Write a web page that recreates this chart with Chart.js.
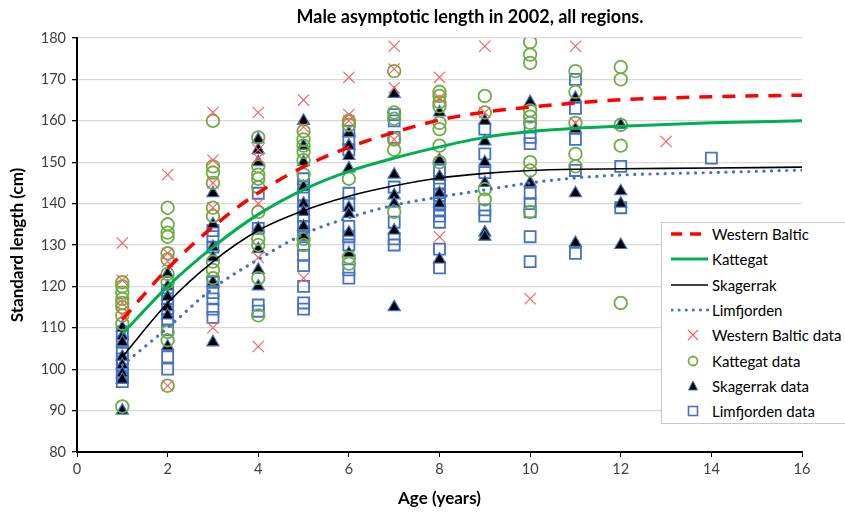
<!DOCTYPE html>
<html>
<head>
<meta charset="utf-8">
<script src="https://cdn.jsdelivr.net/npm/chart.js@4.4.1/dist/chart.umd.min.js"></script>
<style>
    body { margin: 0; background: #fff; font-family: Lato, 'Liberation Sans', sans-serif; }
    #wrap { position: relative; width: 845px; height: 513px; overflow: hidden; }
    #title { position: absolute; left: 95px; width: 750px; top: 5px; text-align: center; font-weight: bold; font-size: 18px; color: #000; }
    #legend { position: absolute; left: 661px; top: 222px; width: 200px; height: 202px; background: #fff; border: 1px solid #c8c8c8; box-sizing: border-box; }
    .item { position: absolute; left: 0; height: 20px; font-size: 15px; color: #000; line-height: 20px; white-space: nowrap; }
    .item svg { position: absolute; left: 9px; top: 0; }
    .item span { position: absolute; left: 50px; top: 0; }
</style>
</head>
<body>
<div id="wrap">
    <canvas id="chart" width="845" height="513"></canvas>
    <div id="title">Male asymptotic length in 2002, all regions.</div>
    <div id="legend"></div>
</div>
<script>
// fitted growth curves, read at these ages
const curveAges = [1, 2, 3, 4, 5, 6, 7, 8, 9, 10, 11, 12, 14, 16];
const westernBalticCurve = [112, 124.3, 134.4, 142.6, 148.9, 153.6, 157.2, 160.2, 162.1, 163.3, 164.3, 165.1, 165.8, 166.2];
const kattegatCurve = [108.5, 120, 129.5, 137.4, 143.4, 147.8, 151, 153.7, 156, 157.4, 158.2, 158.7, 159.5, 160];
const skagerrakCurve = [103, 116, 126, 133.5, 138.3, 141.8, 144.3, 146.2, 147.3, 148, 148.3, 148.4, 148.6, 148.8];
const limfjordenCurve = [101, 110, 119.5, 126.5, 132.6, 136.6, 139.6, 141.6, 143.3, 145, 146.2, 146.9, 147.5, 148.1];

// observed lengths per age
const westernBalticData = {
    1: [130.5, 121.5, 116, 113],
    2: [147, 128, 126, 96],
    3: [162, 150.5, 145, 139, 110],
    4: [162, 153, 151, 140, 127, 105.5],
    5: [165, 158.5, 122],
    6: [170.5, 161.5, 160],
    7: [178, 172.5, 168, 155.5],
    8: [170.5, 165.5, 132],
    9: [178, 162],
    10: [117],
    11: [178, 159.5],
    13: [155]
};
const kattegatData = {
    1: [121, 120, 118.5, 117, 116, 115, 113, 111, 91],
    2: [139, 135, 133, 132, 128, 126.5, 123, 121, 109, 107, 96],
    3: [160, 149, 147.5, 145, 139, 137, 126, 124, 122],
    4: [156, 149, 147, 146, 144, 138, 131.5, 130, 122, 113],
    5: [157.5, 155.5, 154, 152.5, 150.5, 147, 131.5, 130],
    6: [160, 159, 146, 127, 125.5],
    7: [172, 162, 160.5, 155.5, 153, 138],
    8: [167, 166, 164.5, 163.5, 159.5, 158, 154, 150],
    9: [166, 162, 143.5, 141],
    10: [179, 176, 174, 162.5, 161, 159.5, 150, 148, 138],
    11: [172, 167, 159.5, 152, 149],
    12: [173, 170, 159, 154, 116]
};
const skagerrakData = {
    1: [110, 108, 106.5, 103, 101, 99, 97.5, 90],
    2: [123, 120, 117.5, 115, 113, 105.5],
    3: [142.5, 135, 129.5, 127, 121, 106.5],
    4: [155.5, 153, 150, 134, 129, 124, 120],
    5: [160, 154, 150, 144, 140, 138, 134.5, 132],
    6: [157, 154, 151.5, 148.5, 139, 137.5, 133, 128],
    7: [166.5, 147, 142, 140, 133.5, 115],
    8: [162, 150.5, 146.5, 142.5, 140, 126.5],
    9: [160, 155, 150, 145, 133, 132],
    10: [164.5, 145],
    11: [165.5, 158, 142.5, 130.5],
    12: [159, 143, 140, 130]
};
const limfjordenData = {
    1: [109, 106.5, 104, 102.5, 101, 99, 98, 97],
    2: [119, 117, 114.5, 112, 109.5, 103, 100],
    3: [133.5, 132, 129.5, 121, 118.5, 117, 114.5, 112.5],
    4: [142.5, 134, 115.5, 114],
    5: [146, 144, 142, 139.5, 137, 134.5, 132, 130, 127.5, 125, 120, 116, 114.5],
    6: [157.5, 155.5, 153, 142.5, 140, 134.5, 132, 130, 124, 122],
    7: [161.5, 160, 156, 144, 135.5, 131.5, 130],
    8: [148, 145, 143.5, 142, 140, 138.5, 137, 135.5, 129, 124.5],
    9: [158, 152, 147.5, 138.5, 137],
    10: [158.5, 156, 154.5, 142.5, 140, 138, 132, 126],
    11: [170, 163, 155.5, 148, 128],
    12: [149, 139],
    14: [151]
};

const RED = '#ff0000', GREEN = '#00b050', BLUE = '#4472c4', XRED = '#ff5b5b', OGREEN = '#70ad47';

function curvePoints(values) {
    return curveAges.map((a, i) => ({ x: a, y: values[i] }));
}

function scatterPoints(obj) {
    const pts = [];
    Object.keys(obj).forEach(age => {
        obj[age].forEach(v => pts.push({ x: Number(age), y: v }));
    });
    return pts;
}

function lineSet(label, values, color, width, dash) {
    return {
        type: 'line', label: label, data: curvePoints(values),
        borderColor: color, borderWidth: width, borderDash: dash || [],
        borderCapStyle: dash && dash[0] < 1 ? 'round' : 'butt',
        pointRadius: 0, fill: false, tension: 0.4, cubicInterpolationMode: 'monotone',
        showLine: true, order: 0
    };
}

const ctx = document.getElementById('chart');
new Chart(ctx, {
    type: 'scatter',
    data: {
        datasets: [
            lineSet('Western Baltic', westernBalticCurve, RED, 3.5, [13, 10]),
            lineSet('Kattegat', kattegatCurve, GREEN, 3),
            lineSet('Skagerrak', skagerrakCurve, '#000', 1.6),
            lineSet('Limfjorden', limfjordenCurve, BLUE, 3.2, [0.1, 7.5]),
            {
                label: 'Western Baltic data', data: scatterPoints(westernBalticData),
                pointStyle: 'crossRot', pointRadius: 8, borderColor: XRED, borderWidth: 1.1,
                backgroundColor: XRED, order: 2
            },
            {
                label: 'Kattegat data', data: scatterPoints(kattegatData),
                pointStyle: 'circle', pointRadius: 6.3, borderColor: OGREEN, borderWidth: 1.8,
                backgroundColor: 'rgba(0,0,0,0)', order: 2
            },
            {
                label: 'Skagerrak data', data: scatterPoints(skagerrakData),
                pointStyle: 'triangle', pointRadius: 7, borderColor: BLUE, borderWidth: 1.2,
                backgroundColor: '#000', order: 2
            },
            {
                label: 'Limfjorden data', data: scatterPoints(limfjordenData),
                pointStyle: 'rect', pointRadius: 7.8, borderColor: BLUE, borderWidth: 1.8,
                backgroundColor: 'rgba(0,0,0,0)', order: 2
            }
        ]
    },
    options: {
        responsive: false,
        animation: false,
        devicePixelRatio: 1,
        layout: { padding: { top: 38, right: 43, bottom: 0, left: 0 } },
        plugins: {
            legend: { display: false },
            tooltip: { enabled: false }
        },
        scales: {
            x: {
                type: 'linear', min: 0, max: 16,
                ticks: { stepSize: 2, color: '#404040', font: { family: 'Lato', size: 14.5 }, padding: 4 },
                grid: { drawOnChartArea: false, drawTicks: true, tickLength: 5, tickColor: '#000' },
                border: { color: '#000', width: 2 },
                title: { display: true, text: 'Age (years)', color: '#000', font: { family: 'Lato', size: 17, weight: 'bold' }, padding: { top: 4, bottom: 4 } },
                afterFit: s => { s.height = 61; }
            },
            y: {
                min: 80, max: 180,
                ticks: { stepSize: 10, color: '#404040', font: { family: 'Lato', size: 14.5 }, padding: 6 },
                grid: { color: '#d9d9d9', lineWidth: 1.3, drawTicks: true, tickLength: 5, tickColor: '#000' },
                border: { color: '#000', width: 2 },
                title: { display: true, text: 'Standard length (cm)', color: '#000', font: { family: 'Lato', size: 17, weight: 'bold' }, padding: { top: 7, bottom: 4 } },
                afterFit: s => { s.width = 77; }
            }
        }
    }
});

// legend drawn as html over the plot
const legendItems = [
    { label: 'Western Baltic', icon: `<line x1="0" y1="10" x2="37" y2="10" stroke="${RED}" stroke-width="3.5" stroke-dasharray="11 8"/>` },
    { label: 'Kattegat', icon: `<line x1="0" y1="10" x2="37" y2="10" stroke="${GREEN}" stroke-width="3"/>` },
    { label: 'Skagerrak', icon: `<line x1="0" y1="10" x2="37" y2="10" stroke="#000" stroke-width="1.6"/>` },
    { label: 'Limfjorden', icon: `<line x1="1" y1="10" x2="37" y2="10" stroke="${BLUE}" stroke-width="3" stroke-linecap="round" stroke-dasharray="0.1 7"/>` },
    { label: 'Western Baltic data', icon: `<path d="M17 5 L27 15 M27 5 L17 15" stroke="${XRED}" stroke-width="1.1"/>` },
    { label: 'Kattegat data', icon: `<circle cx="22" cy="10" r="4.5" fill="none" stroke="${OGREEN}" stroke-width="1.8"/>` },
    { label: 'Skagerrak data', icon: `<path d="M22 5 L26.5 14 L17.5 14 Z" fill="#000" stroke="${BLUE}" stroke-width="1"/>` },
    { label: 'Limfjorden data', icon: `<rect x="17.5" y="5.5" width="9" height="9" fill="none" stroke="${BLUE}" stroke-width="1.6"/>` }
];
const legendDiv = document.getElementById('legend');
legendItems.forEach((it, i) => {
    const row = document.createElement('div');
    row.className = 'item';
    row.style.top = (1 + i * 25.3) + 'px';
    row.innerHTML = `<svg width="40" height="20">${it.icon}</svg><span>${it.label}</span>`;
    legendDiv.appendChild(row);
});
</script>
</body>
</html>
